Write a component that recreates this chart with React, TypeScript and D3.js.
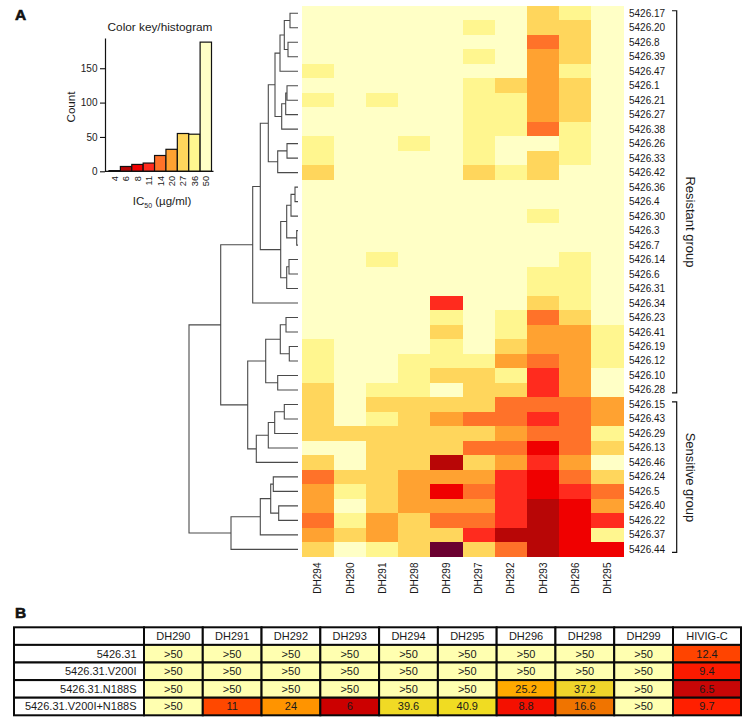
import React, { useEffect, useRef } from 'react'
import * as d3 from 'd3'

const FONT = '"Liberation Sans", Arial, sans-serif'

// histogram / colour key
const icBins = [4, 6, 8, 11, 14, 20, 27, 36, 50]
const icCounts = [1, 7, 10, 12, 23, 32, 55, 54, 188]
const icColors = ['#6b0030', '#b80606', '#f00000', '#ff2b1e', '#ff7229', '#ffa231', '#ffd65c', '#fff68f', '#ffffc6']

const heatColumns = ['DH294', 'DH290', 'DH291', 'DH298', 'DH299', 'DH297', 'DH292', 'DH293', 'DH296', 'DH295']
const heatRows = [
  '5426.17', '5426.20', '5426.8', '5426.39', '5426.47', '5426.1', '5426.21', '5426.27', '5426.38', '5426.26',
  '5426.33', '5426.42', '5426.36', '5426.4', '5426.30', '5426.3', '5426.7', '5426.14', '5426.6', '5426.31',
  '5426.34', '5426.23', '5426.41', '5426.19', '5426.12', '5426.10', '5426.28', '5426.15', '5426.43', '5426.29',
  '5426.13', '5426.46', '5426.24', '5426.5', '5426.40', '5426.22', '5426.37', '5426.44',
]
// IC50 bin of every cell, one line per row
const heatValues = [
  [50, 50, 50, 50, 50, 50, 50, 27, 36, 50],
  [50, 50, 50, 50, 50, 36, 50, 27, 27, 50],
  [50, 50, 50, 50, 50, 50, 50, 14, 27, 50],
  [50, 50, 50, 50, 50, 36, 50, 20, 27, 50],
  [36, 50, 50, 50, 50, 50, 50, 20, 36, 50],
  [50, 50, 50, 50, 50, 36, 27, 20, 27, 50],
  [36, 50, 36, 50, 50, 36, 36, 20, 27, 50],
  [50, 50, 50, 50, 50, 36, 36, 20, 27, 50],
  [50, 50, 50, 50, 50, 36, 36, 14, 36, 50],
  [36, 50, 50, 36, 50, 36, 50, 50, 36, 50],
  [36, 50, 50, 50, 50, 36, 50, 27, 36, 50],
  [27, 50, 50, 50, 50, 27, 36, 27, 50, 50],
  [50, 50, 50, 50, 50, 50, 50, 50, 50, 50],
  [50, 50, 50, 50, 50, 50, 50, 50, 50, 50],
  [50, 50, 50, 50, 50, 50, 50, 36, 50, 50],
  [50, 50, 50, 50, 50, 50, 50, 50, 50, 50],
  [50, 50, 50, 50, 50, 50, 50, 50, 50, 50],
  [50, 50, 36, 50, 50, 50, 50, 50, 36, 50],
  [50, 50, 50, 50, 50, 50, 50, 36, 36, 50],
  [50, 50, 50, 50, 50, 50, 50, 36, 36, 50],
  [50, 50, 50, 50, 11, 50, 50, 27, 36, 50],
  [50, 50, 50, 50, 36, 50, 36, 14, 27, 50],
  [50, 50, 50, 50, 27, 50, 36, 20, 20, 36],
  [36, 50, 50, 50, 36, 50, 27, 20, 20, 36],
  [36, 50, 50, 36, 36, 36, 20, 14, 20, 36],
  [36, 50, 50, 36, 27, 27, 36, 11, 20, 50],
  [27, 50, 36, 36, 50, 27, 27, 11, 20, 50],
  [27, 50, 27, 27, 27, 27, 14, 14, 14, 20],
  [27, 50, 36, 27, 20, 14, 14, 11, 14, 20],
  [27, 27, 27, 27, 27, 27, 20, 14, 14, 36],
  [50, 50, 27, 27, 27, 14, 14, 8, 14, 27],
  [27, 50, 27, 27, 6, 27, 20, 11, 20, 50],
  [14, 27, 27, 20, 20, 20, 11, 8, 14, 27],
  [20, 36, 27, 20, 8, 14, 11, 8, 11, 14],
  [20, 50, 27, 20, 20, 20, 11, 6, 8, 20],
  [14, 36, 20, 27, 14, 14, 11, 6, 8, 11],
  [20, 27, 20, 27, 27, 11, 6, 6, 8, 36],
  [27, 50, 36, 27, 4, 27, 14, 6, 8, 8],
]

// dendrogram: [merge height, left, right], a plain number is a row index
type TreeNode = number | [number, TreeNode, TreeNode]
const resistantTree: TreeNode = [77.3,
  [45.3,
    [37.7,
      [29.7,
        [23,
          [18, [13.7, [8, 0, 1], [10, 2, 3]], 4],
          [16.3, [12.3, [11, 5, 6], 7], 8],
        ],
        [20.3, [11, 9, 10], 11],
      ],
      [17.3,
        [11.3, [7, [3, 12, 13], 14], [1.3, 15, 16]],
        [11.3, [9, 17, 18], 19],
      ],
    ],
    20,
  ],
  [50.3,
    [32.3, [17.7, [12, 21, 22], [8.7, 23, 24]], [20.3, 25, 26]],
    [41.7, [29.7, [23.3, [13.7, 27, 28], 29], 30], 31],
  ],
]
const sensitiveTree: TreeNode = [67,
  [37.7, [27.3, [24.7, 32, 33], [19.3, 34, 35]], 36],
  37,
]
const rootHeight = 109

// panel B
const tableColumns = ['DH290', 'DH291', 'DH292', 'DH293', 'DH294', 'DH295', 'DH296', 'DH298', 'DH299', 'HIVIG-C']
const tableRows = ['5426.31', '5426.31.V200I', '5426.31.N188S', '5426.31.V200I+N188S']
const tableValues = [
  ['>50', '>50', '>50', '>50', '>50', '>50', '>50', '>50', '>50', '12.4'],
  ['>50', '>50', '>50', '>50', '>50', '>50', '>50', '>50', '>50', '9.4'],
  ['>50', '>50', '>50', '>50', '>50', '>50', '25.2', '37.2', '>50', '6.5'],
  ['>50', '11', '24', '6', '39.6', '40.9', '8.8', '16.6', '>50', '9.7'],
]
const tableStops = [6, 6.5, 8.8, 9.7, 11, 12.4, 16.6, 24, 25.2, 37.2, 40.9]
const tableStopColors = ['#cc0000', '#c80606', '#f41000', '#ff1f00', '#ff4800', '#ff4400', '#f07400', '#ff9400', '#ffaa00', '#efd52b', '#f0dc22']

export default function App() {
  const svgRef = useRef<SVGSVGElement | null>(null)

  useEffect(() => {
    const svg = d3.select(svgRef.current)
    svg.selectAll('*').remove()
    svg.attr('font-family', FONT).attr('fill', '#1a1a1a')

    const panelLetter = (t: string, y: number) =>
      svg.append('text').attr('x', 15).attr('y', y).attr('font-size', 15.5).attr('font-weight', 'bold')
        .attr('fill', '#111').attr('stroke', '#111').attr('stroke-width', 0.6).text(t)
    panelLetter('A', 20)
    panelLetter('B', 618)

    const icColor = d3.scaleOrdinal<number, string>().domain(icBins).range(icColors)

    // histogram
    const histX = d3.scaleBand<number>().domain(icBins).range([109, 211.5])
    const histY = d3.scaleLinear().domain([0, 194]).range([171.3, 38])
    const hist = svg.append('g')
    hist.selectAll('rect').data(icBins).join('rect')
      .attr('x', d => histX(d)!)
      .attr('width', histX.bandwidth())
      .attr('y', (d, i) => histY(icCounts[i]))
      .attr('height', (d, i) => histY(0) - histY(icCounts[i]))
      .attr('fill', d => icColor(d))
      .attr('stroke', '#111')
      .attr('stroke-width', 1.2)
    hist.append('line').attr('x1', 105).attr('x2', 213.5).attr('y1', histY(0)).attr('y2', histY(0))
      .attr('stroke', '#111').attr('stroke-width', 1.2)

    const yAxis = svg.append('g').attr('transform', 'translate(105,0)')
      .call(d3.axisLeft(histY).tickValues([0, 50, 100, 150]).tickSize(5).tickPadding(2.5).tickSizeOuter(0))
    yAxis.select('.domain').attr('stroke', '#111').attr('stroke-width', 1.2)
    yAxis.selectAll('.tick line').attr('stroke', '#111').attr('stroke-width', 1.1)
    yAxis.selectAll('.tick text').attr('font-family', FONT).attr('font-size', 10).attr('fill', '#1a1a1a')

    svg.append('g').selectAll('text').data(icBins).join('text')
      .attr('transform', d => `translate(${histX(d)! + histX.bandwidth() / 2 + 3.3},176) rotate(-90)`)
      .attr('text-anchor', 'end')
      .attr('font-size', 9.2)
      .text(d => d)

    svg.append('text').attr('x', 160).attr('y', 31).attr('text-anchor', 'middle').attr('font-size', 11.8)
      .text('Color key/histogram')
    svg.append('text').attr('transform', 'translate(75,107) rotate(-90)').attr('text-anchor', 'middle').attr('font-size', 11.6)
      .text('Count')
    const icTitle = svg.append('text').attr('x', 162).attr('y', 205).attr('text-anchor', 'middle').attr('font-size', 11.5)
    icTitle.append('tspan').text('IC')
    icTitle.append('tspan').attr('font-size', 7).attr('dy', 3).text('50')
    icTitle.append('tspan').attr('dy', -3).text(' (µg/ml)')

    // heatmap
    const cellX = d3.scaleBand<string>().domain(heatColumns).range([301.7, 623.3])
    const cellY = d3.scaleBand<string>().domain(heatRows).range([6, 556.6])
    const heat = svg.append('g').attr('shape-rendering', 'crispEdges')
    heatValues.forEach((row, r) => {
      row.forEach((v, c) => {
        heat.append('rect')
          .attr('x', cellX(heatColumns[c])!)
          .attr('y', cellY(heatRows[r])!)
          .attr('width', cellX.bandwidth() + 0.5)
          .attr('height', cellY.bandwidth() + 0.5)
          .attr('fill', icColor(v))
      })
    })

    svg.append('g').selectAll('text').data(heatRows).join('text')
      .attr('x', 629)
      .attr('y', d => cellY(d)! + cellY.bandwidth() / 2 + 3.5)
      .attr('font-size', 10)
      .text(d => d)

    svg.append('g').selectAll('text').data(heatColumns).join('text')
      .attr('transform', d => `translate(${cellX(d)! + cellX.bandwidth() / 2 + 3.6},562.5) rotate(-90)`)
      .attr('text-anchor', 'end')
      .attr('font-size', 10)
      .text(d => d)

    // dendrogram
    const treeX = d3.scaleLinear().domain([0, rootHeight]).range([298, 189])
    const treeLines = d3.path()
    const walk = (n: TreeNode): { x: number; y: number } => {
      if (typeof n === 'number') return { x: treeX(0), y: cellY(heatRows[n])! + cellY.bandwidth() / 2 }
      const a = walk(n[1])
      const b = walk(n[2])
      const x = treeX(n[0])
      treeLines.moveTo(a.x, a.y)
      treeLines.lineTo(x, a.y)
      treeLines.lineTo(x, b.y)
      treeLines.lineTo(b.x, b.y)
      return { x, y: (a.y + b.y) / 2 }
    }
    walk([rootHeight, resistantTree, sensitiveTree])
    svg.append('path').attr('d', treeLines.toString()).attr('fill', 'none').attr('stroke', '#4a4a4a').attr('stroke-width', 1.1)

    // group brackets
    const groups = [
      { name: 'Resistant group', first: '5426.17', last: '5426.28', textY: 222 },
      { name: 'Sensitive group', first: '5426.15', last: '5426.44', textY: 477.5 },
    ]
    groups.forEach(g => {
      const top = cellY(g.first)! + cellY.bandwidth() / 2 - 2.5
      const bottom = cellY(g.last)! + cellY.bandwidth() / 2 + 3
      svg.append('path')
        .attr('d', `M672,${top}H676.7V${bottom}H672`)
        .attr('fill', 'none').attr('stroke', '#111').attr('stroke-width', 1.2)
      svg.append('text')
        .attr('transform', `translate(686,${g.textY}) rotate(90)`)
        .attr('text-anchor', 'middle')
        .attr('font-size', 13)
        .text(g.name)
    })

    // table
    const tableColor = d3.scaleLinear<string>().domain(tableStops).range(tableStopColors)
    const colX = d3.scaleLinear().domain([0, 9]).range([144, 673])
    const rowY = d3.scaleBand<string>().domain(['header', ...tableRows]).range([627.3, 715.3])
    const table = svg.append('g').attr('font-size', 11)
    const cell = (x0: number, x1: number, y: number, fill: string) =>
      table.append('rect').attr('x', x0).attr('y', y).attr('width', x1 - x0).attr('height', rowY.bandwidth())
        .attr('fill', fill).attr('stroke', '#0a0a0a').attr('stroke-width', 2)

    cell(14, 144, rowY('header')!, '#fff')
    tableColumns.forEach((name, c) => {
      const x0 = colX(c)
      const x1 = c === 9 ? 741 : colX(c + 1)
      cell(x0, x1, rowY('header')!, '#fff')
      table.append('text').attr('x', (x0 + x1) / 2).attr('y', rowY('header')! + rowY.bandwidth() / 2 + 3.8)
        .attr('text-anchor', 'middle').text(name)
    })
    tableRows.forEach((name, r) => {
      const y = rowY(name)!
      cell(14, 144, y, '#fff')
      table.append('text').attr('x', 136.5).attr('y', y + rowY.bandwidth() / 2 + 3.8)
        .attr('text-anchor', 'end').text(name)
      tableValues[r].forEach((v, c) => {
        const x0 = colX(c)
        const x1 = c === 9 ? 741 : colX(c + 1)
        cell(x0, x1, y, v === '>50' ? '#ffffb0' : tableColor(+v))
        table.append('text').attr('x', (x0 + x1) / 2).attr('y', y + rowY.bandwidth() / 2 + 3.8)
          .attr('text-anchor', 'middle').text(v)
      })
    })
  }, [])

  return (
    <svg ref={svgRef} width={747} height={722} style={{ position: 'absolute', left: 0, top: 0 }}></svg>
  )
}
